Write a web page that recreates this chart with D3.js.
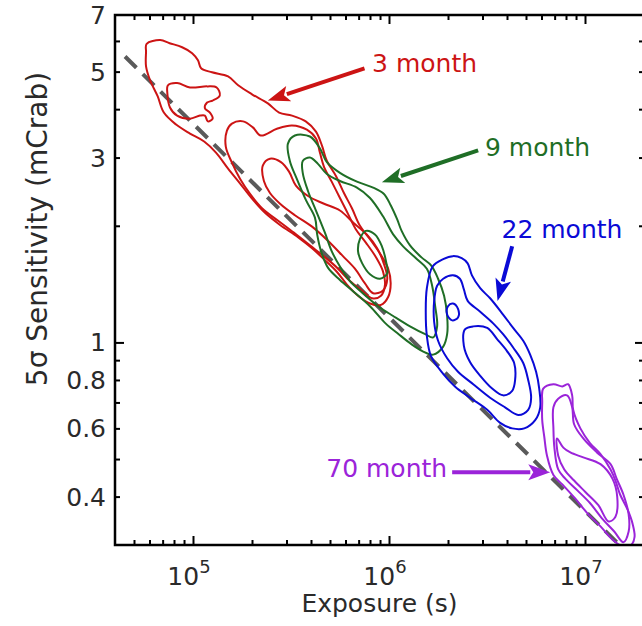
<!DOCTYPE html>
<head>
  <meta charset="utf-8">
  <script src="https://d3js.org/d3.v7.min.js"></script>
  <style>
body { margin: 0; background: #fff; }
svg { display: block; }
text { font-family: "DejaVu Sans", sans-serif; }
  </style>
</head>
<body>
<svg width="642" height="626"></svg>
<script>
// exposure (s) vs 5 sigma sensitivity (mCrab), contours
var xMajor = [1e5, 1e6, 1e7];
var xExp = ["5", "6", "7"];
var yLabelled = [7, 5, 3, 1, 0.8, 0.6, 0.4];
var yLabels = ["7", "5", "3", "1", "0.8", "0.6", "0.4"];
var slopeLine = [[4.5e4, 5.47], [1.5e7, 0.30]];

var month3 = [
  [[5.8e4,5.9],[6.8e4,6.03],[7.6e4,5.92],[8.8e4,5.78],[9.9e4,5.58],[1.06e5,5.35],[1.1e5,5.1],[1.25e5,4.98],[1.51e5,4.86],[1.7e5,4.61],[2.0e5,4.37],[2.41e5,4.14],[2.75e5,3.92],[3.2e5,3.85],[3.76e5,3.72],[4.24e5,3.5],[4.55e5,3.22],[4.82e5,2.94],[5.36e5,2.69],[5.89e5,2.43],[6.47e5,2.22],[7.11e5,2.0],[8.1e5,1.83],[9.1e5,1.68],[9.9e5,1.55],[1.02e6,1.42],[9.9e5,1.31],[9.1e5,1.25],[8.0e5,1.26],[6.95e5,1.32],[6.1e5,1.41],[5.43e5,1.52],[4.71e5,1.63],[4.05e5,1.75],[3.43e5,1.87],[2.78e5,2.01],[2.33e5,2.16],[2.0e5,2.35],[1.74e5,2.57],[1.51e5,2.81],[1.31e5,3.09],[1.14e5,3.30],[9.65e4,3.46],[8.2e4,3.65],[7.1e4,3.92],[6.6e4,4.32],[6.04e4,4.75],[5.76e4,5.16],[5.76e4,5.61]],
  [[7.45e4,4.61],[8.3e4,4.67],[9.65e4,4.55],[1.18e5,4.58],[1.32e5,4.55],[1.37e5,4.34],[1.26e5,4.21],[1.18e5,4.16],[1.15e5,4.02],[1.22e5,3.92],[1.26e5,3.78],[1.19e5,3.72],[1.15e5,3.85],[1.085e5,3.85],[9.65e4,3.78],[8.3e4,3.85],[7.63e4,4.04],[7.4e4,4.39]],
  [[1.49e5,3.52],[1.58e5,3.67],[1.8e5,3.72],[2.02e5,3.59],[2.22e5,3.42],[2.68e5,3.56],[3.2e5,3.63],[3.81e5,3.54],[4.24e5,3.36],[4.44e5,3.09],[4.66e5,2.84],[5.1e5,2.6],[5.62e5,2.36],[6.17e5,2.15],[6.77e5,1.96],[7.62e5,1.81],[8.58e5,1.66],[9.3e5,1.53],[9.54e5,1.41],[9.1e5,1.32],[8.2e5,1.30],[7.3e5,1.36],[6.32e5,1.44],[5.5e5,1.55],[4.71e5,1.66],[3.95e5,1.78],[3.27e5,1.92],[2.72e5,2.06],[2.25e5,2.22],[1.95e5,2.42],[1.74e5,2.64],[1.58e5,2.91],[1.47e5,3.2]],
  [[2.27e5,2.86],[2.47e5,2.98],[2.81e5,2.92],[3.09e5,2.76],[3.35e5,2.54],[3.9e5,2.38],[4.66e5,2.28],[5.62e5,2.19],[6.62e5,2.03],[7.7e5,1.9],[8.7e5,1.75],[9.4e5,1.6],[9.8e5,1.46],[9.3e5,1.36],[8.3e5,1.34],[7.54e5,1.42],[6.7e5,1.55],[5.82e5,1.67],[4.88e5,1.83],[4.05e5,1.99],[3.31e5,2.13],[2.78e5,2.28],[2.47e5,2.43],[2.3e5,2.61]]
];

var month9 = [
  [[3.05e5,3.26],[3.31e5,3.42],[3.95e5,3.4],[4.44e5,3.17],[4.82e5,2.92],[5.62e5,2.74],[6.86e5,2.6],[8.3e5,2.51],[9.4e5,2.42],[1.02e6,2.26],[1.1e6,2.08],[1.16e6,1.94],[1.28e6,1.78],[1.46e6,1.66],[1.64e6,1.58],[1.78e6,1.46],[1.91e6,1.32],[1.98e6,1.17],[1.98e6,1.05],[1.89e6,0.975],[1.68e6,0.93],[1.48e6,0.95],[1.3e6,0.99],[1.12e6,1.05],[9.6e5,1.12],[8.0e5,1.24],[6.62e5,1.35],[5.62e5,1.45],[4.88e5,1.56],[4.5e5,1.72],[4.3e5,1.9],[4.19e5,2.1],[3.77e5,2.33],[3.39e5,2.64],[3.12e5,2.94]],
  [[3.63e5,2.94],[3.95e5,3.0],[4.34e5,2.89],[4.82e5,2.72],[5.62e5,2.61],[6.86e5,2.51],[8.0e5,2.36],[9.3e5,2.12],[1.05e6,1.9],[1.18e6,1.77],[1.39e6,1.64],[1.56e6,1.55],[1.66e6,1.4],[1.72e6,1.24],[1.76e6,1.1],[1.68e6,1.03],[1.53e6,1.05],[1.28e6,1.1],[1.05e6,1.17],[8.8e5,1.24],[7.35e5,1.34],[6.32e5,1.44],[5.62e5,1.57],[5.1e5,1.72],[4.71e5,1.92],[4.24e5,2.19],[3.86e5,2.46],[3.63e5,2.74]],
  [[7.11e5,1.85],[7.6e5,1.94],[8.48e5,1.9],[9.2e5,1.77],[9.65e5,1.62],[9.8e5,1.51],[9.0e5,1.46],[8.0e5,1.5],[7.3e5,1.6],[6.95e5,1.72]]
];

var month22 = [
  [[1.67e6,1.57],[1.89e6,1.64],[2.12e6,1.67],[2.35e6,1.65],[2.52e6,1.6],[2.65e6,1.49],[2.92e6,1.38],[3.28e6,1.3],[3.82e6,1.18],[4.3e6,1.09],[4.84e6,1.01],[5.25e6,0.93],[5.63e6,0.84],[5.84e6,0.76],[5.91e6,0.68],[5.57e6,0.63],[4.9e6,0.6],[4.25e6,0.6],[3.69e6,0.62],[3.17e6,0.67],[2.59e6,0.72],[2.17e6,0.77],[1.89e6,0.83],[1.64e6,0.92],[1.56e6,1.04],[1.54e6,1.2],[1.56e6,1.38]],
  [[1.76e6,1.4],[1.89e6,1.46],[2.12e6,1.49],[2.3e6,1.46],[2.41e6,1.37],[2.52e6,1.28],[2.92e6,1.2],[3.4e6,1.12],[3.82e6,1.05],[4.3e6,0.97],[4.84e6,0.885],[5.13e6,0.8],[5.31e6,0.72],[5.13e6,0.67],[4.56e6,0.65],[3.91e6,0.68],[3.28e6,0.72],[2.69e6,0.78],[2.25e6,0.84],[1.98e6,0.91],[1.78e6,1.01],[1.7e6,1.13],[1.7e6,1.28]],
  [[2.44e6,1.08],[2.69e6,1.1],[3.17e6,1.09],[3.56e6,1.02],[4.0e6,0.95],[4.35e6,0.885],[4.4e6,0.8],[4.25e6,0.75],[3.82e6,0.73],[3.36e6,0.76],[2.92e6,0.82],[2.59e6,0.89],[2.41e6,0.98]],
  [[2.0e6,1.24],[2.12e6,1.26],[2.25e6,1.22],[2.25e6,1.16],[2.1e6,1.14],[1.98e6,1.18]]
];

var month70 = [
  [[6.05e6,0.70],[6.12e6,0.76],[6.9e6,0.78],[7.66e6,0.77],[8.2e6,0.78],[8.6e6,0.73],[8.7e6,0.67],[9.47e6,0.60],[1.06e7,0.55],[1.2e7,0.515],[1.35e7,0.47],[1.43e7,0.44],[1.51e7,0.405],[1.65e7,0.37],[1.75e7,0.34],[1.79e7,0.315],[1.72e7,0.30],[1.59e7,0.296],[1.38e7,0.31],[1.2e7,0.335],[1.04e7,0.36],[8.93e6,0.395],[7.66e6,0.43],[6.9e6,0.455],[6.4e6,0.51],[6.2e6,0.57],[6.05e6,0.63]],
  [[6.9e6,0.68],[7.3e6,0.715],[8.1e6,0.73],[8.6e6,0.68],[8.8e6,0.615],[9.8e6,0.565],[1.15e7,0.52],[1.35e7,0.485],[1.45e7,0.445],[1.57e7,0.405],[1.67e7,0.36],[1.67e7,0.325],[1.57e7,0.305],[1.41e7,0.325],[1.23e7,0.35],[1.06e7,0.385],[9.14e6,0.415],[7.93e6,0.445],[7.3e6,0.47],[6.98e6,0.535],[6.9e6,0.60]],
  [[7.2e6,0.565],[7.75e6,0.535],[8.42e6,0.52],[9.8e6,0.505],[1.2e7,0.485],[1.38e7,0.445],[1.46e7,0.40],[1.43e7,0.355],[1.32e7,0.345],[1.17e7,0.38],[1.01e7,0.41],[8.8e6,0.44],[7.84e6,0.47],[7.3e6,0.51]]
];

var labels = ["3 month", "9 month", "22 month", "70 month"];
var labelAt = [[8.2e5, 5.27], [3.09e6, 3.19], [3.75e6, 1.96], [1.98e6, 0.475]];
var arrowTail = [[7.5e5, 5.1], [2.85e6, 3.13], [4.25e6, 1.77], [2.1e6, 0.462]];
var arrowHead = [[2.41e5, 4.21], [9.2e5, 2.59], [3.58e6, 1.28], [6.65e6, 0.462]];

var colors = ["#cc1414", "#1f6e26", "#0a0ad6", "#9b24d9"];
var anchors = ["start", "start", "start", "end"];

var svg = d3.select("svg");
var pLeft = 115, pRight = 644, pTop = 15, pBottom = 545;

var x = d3.scaleLog().domain([4e4, 2e7]).range([pLeft, pRight]);
var y = d3.scaleLog().domain([0.3, 7]).range([pBottom, pTop]);

svg.append("defs").append("clipPath").attr("id", "plot")
  .append("rect").attr("x", pLeft).attr("y", pTop)
  .attr("width", pRight - pLeft).attr("height", pBottom - pTop);

var plot = svg.append("g").attr("clip-path", "url(#plot)");

var line = d3.line()
  .x(function(d) { return x(d[0]); })
  .y(function(d) { return y(d[1]); });

plot.append("path")
  .attr("d", line(slopeLine))
  .attr("fill", "none")
  .attr("stroke", "#5a5a5a")
  .attr("stroke-width", 4)
  .attr("stroke-dasharray", "16,9");

var contourLine = d3.line()
  .x(function(d) { return x(d[0]); })
  .y(function(d) { return y(d[1]); })
  .curve(d3.curveCatmullRomClosed.alpha(0.5));

[month3, month9, month22, month70].forEach(function(set, i) {
  plot.append("g").selectAll("path")
    .data(set)
    .enter().append("path")
      .attr("d", function(d) { return contourLine(d); })
      .attr("fill", "none")
      .attr("stroke", colors[i])
      .attr("stroke-width", 2);
});

// arrows
labels.forEach(function(name, i) {
  var x0 = x(arrowTail[i][0]), y0 = y(arrowTail[i][1]);
  var x1 = x(arrowHead[i][0]), y1 = y(arrowHead[i][1]);
  var dx = x1 - x0, dy = y1 - y0, len = Math.sqrt(dx * dx + dy * dy);
  var ux = dx / len, uy = dy / len;
  var hl = 22, hw = 8;
  var bx = x1 - ux * hl, by = y1 - uy * hl;
  svg.append("line")
    .attr("x1", x0).attr("y1", y0)
    .attr("x2", bx + ux * 2).attr("y2", by + uy * 2)
    .attr("stroke", colors[i])
    .attr("stroke-width", 4);
  svg.append("path")
    .attr("d", "M" + x1 + "," + y1 +
      "L" + (bx - uy * hw) + "," + (by + ux * hw) +
      "L" + (bx + ux * 5) + "," + (by + uy * 5) +
      "L" + (bx + uy * hw) + "," + (by - ux * hw) + "Z")
    .attr("fill", colors[i]);
  svg.append("text")
    .attr("x", x(labelAt[i][0]))
    .attr("y", y(labelAt[i][1]))
    .attr("dy", "0.36em")
    .attr("text-anchor", anchors[i])
    .attr("fill", colors[i])
    .attr("font-size", 25)
    .text(name);
});

// axes, ticks point inwards
var xMinor = x.ticks().filter(function(d) { return xMajor.indexOf(d) < 0 && d > 4e4 && d < 2e7; });
var yMinor = y.ticks().filter(function(d) { return d !== 1 && d > 0.3 && d < 7; });

function noLabel() { return ""; }

svg.append("g").attr("transform", "translate(0," + pBottom + ")")
  .call(d3.axisBottom(x).tickValues(xMinor).tickSize(-5).tickFormat(noLabel));
svg.append("g").attr("transform", "translate(0," + pBottom + ")")
  .call(d3.axisBottom(x).tickValues(xMajor).tickSize(-9).tickFormat(noLabel));
svg.append("g").attr("transform", "translate(0," + pTop + ")")
  .call(d3.axisTop(x).tickValues(xMinor).tickSize(-5).tickFormat(noLabel));
svg.append("g").attr("transform", "translate(0," + pTop + ")")
  .call(d3.axisTop(x).tickValues(xMajor).tickSize(-9).tickFormat(noLabel));

svg.append("g").attr("transform", "translate(" + pLeft + ",0)")
  .call(d3.axisLeft(y).tickValues(yMinor).tickSize(-5).tickFormat(noLabel));
svg.append("g").attr("transform", "translate(" + pLeft + ",0)")
  .call(d3.axisLeft(y).tickValues([1]).tickSize(-9).tickFormat(noLabel));
svg.append("g").attr("transform", "translate(" + pRight + ",0)")
  .call(d3.axisRight(y).tickValues(yMinor).tickSize(-5).tickFormat(noLabel));
svg.append("g").attr("transform", "translate(" + pRight + ",0)")
  .call(d3.axisRight(y).tickValues([1]).tickSize(-9).tickFormat(noLabel));

svg.selectAll(".domain").remove();
svg.selectAll(".tick line").attr("stroke", "#000").attr("stroke-width", 2);

// y tick labels
svg.append("g").selectAll("text")
  .data(yLabelled)
  .enter().append("text")
    .attr("x", pLeft - 9)
    .attr("y", function(d) { return y(d); })
    .attr("dy", "0.36em")
    .attr("text-anchor", "end")
    .attr("font-size", 25)
    .attr("fill", "#2a2a2a")
    .text(function(d, i) { return yLabels[i]; });

// x tick labels as powers of ten
var xl = svg.append("g").selectAll("text")
  .data(xMajor)
  .enter().append("text")
    .attr("x", function(d) { return x(d) - 4; })
    .attr("y", pBottom + 40)
    .attr("text-anchor", "middle")
    .attr("font-size", 25)
    .attr("fill", "#2a2a2a");
xl.append("tspan").text("10");
xl.append("tspan").attr("dy", -12).attr("font-size", 18).text(function(d, i) { return xExp[i]; });

svg.append("rect")
  .attr("x", pLeft).attr("y", pTop)
  .attr("width", pRight - pLeft).attr("height", pBottom - pTop)
  .attr("fill", "none")
  .attr("stroke", "#000")
  .attr("stroke-width", 2.5);

svg.append("text")
  .attr("x", (pLeft + pRight) / 2)
  .attr("y", 612)
  .attr("text-anchor", "middle")
  .attr("font-size", 25)
  .attr("fill", "#2a2a2a")
  .text("Exposure (s)");

svg.append("text")
  .attr("transform", "translate(47,229) rotate(-90)")
  .attr("text-anchor", "middle")
  .attr("font-size", 28)
  .attr("fill", "#2a2a2a")
  .text("5σ Sensitivity (mCrab)");
</script>
</body>
